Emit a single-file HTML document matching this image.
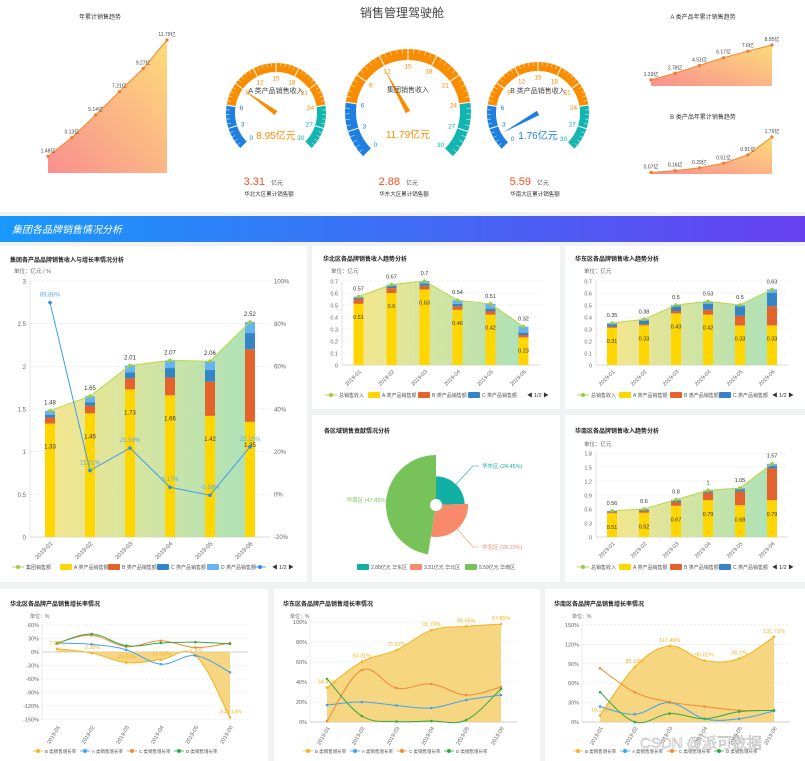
<!DOCTYPE html>
<html><head><meta charset="utf-8"><style>
html,body{margin:0;padding:0;background:#fff;}
svg{display:block;font-family:"Liberation Sans","Noto Sans CJK SC",sans-serif;}
</style></head><body>
<svg id="chart" width="805" height="761" viewBox="0 0 805 761" xmlns="http://www.w3.org/2000/svg">
<defs>
<linearGradient id="gTop" x1="0" y1="1" x2="1" y2="0"><stop offset="0" stop-color="#f98f8f"/><stop offset="1" stop-color="#fddc7a"/></linearGradient>
<linearGradient id="gArea" x1="0" y1="0" x2="1" y2="0"><stop offset="0" stop-color="#f3e27a" stop-opacity="0.85"/><stop offset="1" stop-color="#9fdcab" stop-opacity="0.85"/></linearGradient>
<linearGradient id="gBanner" x1="0" y1="0" x2="1" y2="0"><stop offset="0" stop-color="#1899fb"/><stop offset="1" stop-color="#6640ef"/></linearGradient>
</defs>
<rect x="0" y="0" width="805" height="761" fill="#f1f2f4"/>
<rect x="0" y="0" width="805" height="212" fill="#ffffff"/>
<rect x="0" y="216" width="805" height="26" fill="url(#gBanner)"/>
<text x="12" y="233" font-size="10" font-style="italic" fill="#fff">集团各品牌销售情况分析</text>
<rect x="0" y="246" width="307" height="336" fill="#fff"/>
<rect x="312" y="246" width="248" height="163" fill="#fff"/>
<rect x="565" y="246" width="240" height="163" fill="#fff"/>
<rect x="312" y="415" width="248" height="167" fill="#fff"/>
<rect x="565" y="415" width="240" height="167" fill="#fff"/>
<rect x="0" y="589" width="268" height="172" fill="#fff"/>
<rect x="274" y="589" width="266" height="172" fill="#fff"/>
<rect x="545" y="589" width="260" height="172" fill="#fff"/>
<text x="402" y="17" font-size="12" fill="#444" text-anchor="middle">销售管理驾驶舱</text>
<text x="100" y="19" font-size="6" fill="#333" text-anchor="middle">年累计销售趋势</text>
<text x="703" y="19" font-size="6" fill="#333" text-anchor="middle">A 类产品年累计销售趋势</text>
<text x="703" y="119" font-size="6" fill="#333" text-anchor="middle">B 类产品年累计销售趋势</text>
<text x="10" y="262" font-size="6" font-weight="bold" fill="#222">集团各产品品牌销售收入与增长率情况分析</text>
<text x="14" y="273" font-size="5.5" fill="#666">单位：亿元 / %</text>
<text x="323" y="261" font-size="6" font-weight="bold" fill="#222">华北区各品牌销售收入趋势分析</text>
<text x="331" y="273" font-size="5.5" fill="#666">单位：亿元</text>
<text x="575" y="261" font-size="6" font-weight="bold" fill="#222">华东区各品牌销售收入趋势分析</text>
<text x="584" y="273" font-size="5.5" fill="#666">单位：亿元</text>
<text x="324" y="433" font-size="6" font-weight="bold" fill="#222">各区域销售贡献情况分析</text>
<text x="575" y="433" font-size="6" font-weight="bold" fill="#222">华南区各品牌销售收入趋势分析</text>
<text x="584" y="446" font-size="5.5" fill="#666">单位：亿元</text>
<text x="10" y="606" font-size="6" font-weight="bold" fill="#222">华北区各品牌产品销售增长率情况</text>
<text x="283" y="606" font-size="6" font-weight="bold" fill="#222">华东区各品牌产品销售增长率情况</text>
<text x="554" y="606" font-size="6" font-weight="bold" fill="#222">华南区各品牌产品销售增长率情况</text>
<text x="30" y="618" font-size="5" fill="#666">单位：%</text>
<text x="290" y="618" font-size="5" fill="#666">单位：%</text>
<text x="572" y="618" font-size="5" fill="#666">单位：%</text>
</svg>
<script>
// ---- data ----
const months = ['2019-01','2019-02','2019-03','2019-04','2019-05','2019-06'];
const cumTotal = [1.48,3.13,5.14,7.21,9.27,11.79];
const cumA = [1.33,2.78,4.51,6.17,7.6,8.95];
const cumB = [0.07,0.16,0.29,0.51,0.91,1.76];
const gaugeValues = [8.95,11.79,1.76];
const gaugeLabels = ['A 类产品销售收入','集团销售收入','B 类产品销售收入'];
const regionNames = ['华东区','华北区','华南区'];
const regionValues = [2.88,3.31,5.59];
const regionTotals = [3.31,2.88,5.59];
const regionTotalLabels = ['华北大区累计销售额','华东大区累计销售额','华南大区累计销售额'];
const grpA = [1.33,1.45,1.73,1.66,1.42,1.35];
const grpB = [0.07,0.09,0.13,0.21,0.40,0.85];
const grpC = [0.03,0.04,0.07,0.11,0.14,0.19];
const grpD = [0.05,0.07,0.08,0.09,0.10,0.13];
const grpTotal = [1.48,1.65,2.01,2.07,2.06,2.52];
const grpGrowth = [89.88,11.01,21.58,3.17,-0.58,22.15];
const northA = [0.51,0.6,0.63,0.46,0.42,0.23];
const northB = [0.04,0.04,0.03,0.03,0.03,0.02];
const northC = [0.01,0.02,0.02,0.02,0.02,0.02];
const northD = [0.01,0.01,0.02,0.03,0.04,0.05];
const northTotal = [0.57,0.67,0.7,0.54,0.51,0.32];
const eastA = [0.31,0.33,0.43,0.42,0.33,0.33];
const eastB = [0.01,0.01,0.02,0.04,0.08,0.16];
const eastC = [0.02,0.03,0.04,0.05,0.08,0.11];
const eastD = [0.01,0.01,0.01,0.02,0.01,0.03];
const eastTotal = [0.35,0.38,0.5,0.53,0.5,0.63];
const southA = [0.51,0.52,0.67,0.79,0.68,0.79];
const southB = [0.02,0.04,0.08,0.16,0.30,0.68];
const southC = [0.02,0.02,0.03,0.03,0.04,0.05];
const southD = [0.01,0.02,0.02,0.02,0.03,0.05];
const southTotal = [0.56,0.6,0.8,1,1.05,1.57];
const ngB = [7.05,-2.38,-23.52,-17.02,-7.4,-145.13];
const ngA = [20,17,5,-27,-8,-45];
const ngC = [20,37,12,25,10,20];
const ngD = [19,40,14,20,22,18];
const egB = [34.41,60.31,71.97,91.79,95.65,97.85];
const egA = [17,20,16.5,14,22,27];
const egC = [1,52,34,38,27,35];
const egD = [43,6,0.5,1,2,33];
const sgB = [10.11,85.19,117.49,95.02,98.1,131.71];
const sgA = [24,12,30,5,5,17];
const sgC = [83,46,31,24,18,18];
const sgD = [46,0,13,5,16,18];
const growthTicksN = [60,30,0,-30,-60,-90,-120,-150];
const growthTicksE = [0,20,40,60,80,100];
const growthTicksS = [0,30,60,90,120,150];

const NS='http://www.w3.org/2000/svg';
const svg=document.getElementById('chart');
function el(tag,attrs,parent){const e=document.createElementNS(NS,tag);for(const k in attrs)e.setAttribute(k,attrs[k]);(parent||svg).appendChild(e);return e;}
function txt(x,y,s,size,fill,anchor,parent){const t=el('text',{x:x,y:y,'font-size':size,fill:fill,'text-anchor':anchor||'start'},parent);t.textContent=s;return t;}
function smooth(p){let d='M'+p[0][0]+','+p[0][1];for(let i=0;i<p.length-1;i++){const p0=p[i-1]||p[i],p1=p[i],p2=p[i+1],p3=p[i+2]||p2,t=0.18;const c1=[p1[0]+(p2[0]-p0[0])*t,p1[1]+(p2[1]-p0[1])*t];const c2=[p2[0]-(p3[0]-p1[0])*t,p2[1]-(p3[1]-p1[1])*t];d+=' C'+c1[0]+','+c1[1]+' '+c2[0]+','+c2[1]+' '+p2[0]+','+p2[1];}return d;}

// ---- top mini area charts ----
function miniArea(vals,x0,x1,base,maxV,topY,name){
  const g=el('g',{});
  
  
  const xs=i=>x0+i*(x1-x0)/(vals.length-1);
  const ys=v=>base-v/maxV*(base-topY);
  let d='M'+xs(0)+','+base;
  vals.forEach((v,i)=>{d+=' L'+xs(i)+','+ys(v);});
  d+=' L'+xs(vals.length-1)+','+base+' Z';
  const a=el('path',{d:d,fill:'url(#gTop)'},g);
  
  
  const ln=el('polyline',{points:vals.map((v,i)=>xs(i)+','+ys(v)).join(' '),fill:'none',stroke:'#f5862e','stroke-width':1},g);
  
  
  vals.forEach((v,i)=>{
    const c=el('circle',{cx:xs(i),cy:ys(v),r:1.6,fill:'#f07b2a'},g);
    
    
    const t=txt(xs(i),ys(v)-4,v+'亿',5,'#444','middle',g);
    
    
  });
}
miniArea(cumTotal,48,167,173,11.79,40,'cumulative-total-chart');
miniArea(cumA,651,772,86,8.95,45,'cumulative-a-chart');
miniArea(cumB,651,772,174,1.76,137,'cumulative-b-chart');

// ---- gauges ----
function gauge(cx,cy,r,w,val,label,ptrColor,valColor,name){
  const g=el('g',{});
  
  
  const ang=v=>(225-v/30*270)*Math.PI/180;
  const pt=(v,rr)=>[cx+rr*Math.cos(ang(v)),cy-rr*Math.sin(ang(v))];
  const rm=r-w/2;
  [[0,6,'#1f7fe0'],[6,24,'#fb8c00'],[24,30,'#13b5b1']].forEach(b=>{
    const p0=pt(b[0],rm),p1=pt(b[1],rm);
    const large=(b[1]-b[0])*9>180?1:0;
    const a=el('path',{d:'M'+p0+' A'+rm+' '+rm+' 0 '+large+' 1 '+p1,fill:'none',stroke:b[2],'stroke-width':w},g);
    
    
  });
  for(let v=0;v<=30.001;v+=0.6){
    const major=Math.abs(v/3-Math.round(v/3))<0.01;
    const p0=pt(v,r),p1=pt(v,r-(major?w:w*0.4));
    const tk=el('line',{x1:p0[0],y1:p0[1],x2:p1[0],y2:p1[1],stroke:'#fff','stroke-width':major?1:0.5},g);
    
    
  }
  for(let v=0;v<=30;v+=3){
    const p=pt(v,r-w-6);
    const col=v<=6?'#1f7fe0':(v<=24?'#fb8c00':'#13b5b1');
    const t=txt(p[0],p[1]+2.5,String(v),6.5,col,'middle',g);
    
    
  }
  const tip=pt(val,r*0.78), a=ang(val);
  const px=Math.sin(a)*2.5, py=Math.cos(a)*2.5;
  const ptr=el('polygon',{points:tip+' '+(cx+px)+','+(cy+py)+' '+(cx-px)+','+(cy-py),fill:ptrColor},g);
  
  
  const lt=txt(cx,cy-20,label,7,'#444','middle',g);
  
  
  const vt=txt(cx,cy+26,val+'亿元',10,valColor,'middle',g);
  
  
}
gauge(276,113,50,9,gaugeValues[0],gaugeLabels[0],'#fb8c00','#fb8c00','gauge-a-revenue');
gauge(408,112,63,11,gaugeValues[1],gaugeLabels[1],'#fb8c00','#fb8c00','gauge-group-revenue');
gauge(538,113,51,9,gaugeValues[2],gaugeLabels[2],'#1f7fe0','#1f7fe0','gauge-b-revenue');
[269,404,535].forEach((x,i)=>{
  const t=txt(x-4,185,String(regionTotals[i]),11,'#f4511e','end');
  
  
  const u=txt(x+2,185,'亿元',6,'#555','start');
  
  
  const l=txt(x,196,regionTotalLabels[i],5.5,'#333','middle');
  
  
});

// ---- stacked bar charts ----
const colA='#ffd600',colB='#e4632c',colC='#3585c6',colD='#66b3f2';
function stackChart(o,A,B,C,D,T,growth,name){
  const g=el('g',{});
  
  
  const n=months.length;
  const xs=i=>o.x0+(i+0.5)*(o.x1-o.x0)/n;
  const ys=v=>o.yb-v/o.max*(o.yb-o.yt);
  for(let k=0;k<=o.ticks;k++){
    const v=o.max*k/o.ticks,y=ys(v);
    if(k>0){const gl=el('line',{x1:o.x0,y1:y,x2:o.x1,y2:y,stroke:'#ddd','stroke-dasharray':'2,2','stroke-width':0.6},g);
    
    }
    const t=txt(o.x0-4,y+2.5,String(+v.toFixed(2)),o.fs,'#666','end',g);
    
    
  }
  const ax=el('line',{x1:o.x0,y1:o.yb,x2:o.x1,y2:o.yb,stroke:'#ccc','stroke-width':0.8},g);
  
  
  const ay=el('line',{x1:o.x0,y1:o.yt,x2:o.x0,y2:o.yb,stroke:'#ddd','stroke-width':0.8},g);
  
  
  let d='M'+xs(0)+','+o.yb;
  T.forEach((v,i)=>{d+=' L'+xs(i)+','+ys(v);});
  d+=' L'+xs(n-1)+','+o.yb+' Z';
  const ar=el('path',{d:d,fill:'url(#gArea)'},g);
  
  
  const bw=o.bw;
  months.forEach((m,i)=>{
    let acc=0;
    [[A,colA,'bar-a'],[B,colB,'bar-b'],[C,colC,'bar-c'],[D,colD,'bar-d']].forEach(s=>{
      const v=s[0][i];
      const r=el('rect',{x:xs(i)-bw/2,y:ys(acc+v),width:bw,height:ys(acc)-ys(acc+v),fill:s[1]},g);
      
      
      acc+=v;
    });
    const la=txt(xs(i),ys(A[i])+o.lab,String(A[i]),o.fs,'#333','middle',g);
    
    
    const lt=txt(xs(i),ys(T[i])-6,String(T[i]),o.fs,'#333','middle',g);
    
    
    const xl=txt(xs(i)+3,o.yb+7,m,o.fs,'#666','end',g);
    xl.setAttribute('transform','rotate(-45 '+(xs(i)+3)+' '+(o.yb+7)+')');
    
    
  });
  const tl=el('polyline',{points:T.map((v,i)=>xs(i)+','+ys(v)).join(' '),fill:'none',stroke:'#b5d84c','stroke-width':1},g);
  
  
  T.forEach((v,i)=>{
    const c=el('circle',{cx:xs(i),cy:ys(v),r:1.8,fill:'#9ccc3c'},g);
    
    
  });
  if(growth){
    const yr=v=>494-v/100*(494-281);
    [100,80,60,40,20,0,-20].forEach(v=>{
      const t=txt(o.x1+4,yr(v)+2.5,v+'%',o.fs,'#666','start',g);
      
      
    });
    const gl=el('polyline',{points:growth.map((v,i)=>xs(i)+','+yr(v)).join(' '),fill:'none',stroke:'#3d9cf0','stroke-width':1},g);
    
    
    growth.forEach((v,i)=>{
      const c=el('circle',{cx:xs(i),cy:yr(v),r:1.8,fill:'#2d8ef0'},g);
      
      
      const t=txt(xs(i),yr(v)-6,v+'%',o.fs,'#5aa9ef','middle',g);
      
      
    });
  }
  // legend
  const lg=el('g',{},g);
  
  
  o.legend.forEach((it,k)=>{
    const x=o.lx[k],y=o.ly;
    if(it[1]==='line'){
      const l=el('line',{x1:x,y1:y,x2:x+12,y2:y,stroke:it[2],'stroke-width':0.8},lg);
      
      
      const c=el('circle',{cx:x+6,cy:y,r:2,fill:it[2]},lg);
      
      
    } else {
      const r=el('rect',{x:x,y:y-3,width:12,height:6,rx:1,fill:it[2]},lg);
      
      
    }
    const t=txt(x+14,y+2,it[0],5,'#555','start',lg);
    
    
  });
  const pg=txt(o.px,o.ly+2,'◀ 1/2 ▶',5.5,'#333','start',lg);
  
  
}
stackChart({x0:30,x1:270,yt:281,yb:537,max:3,ticks:6,bw:10,lab:25,fs:6,ly:567,px:272,
  lx:[12,60,108,157,207,254],
  legend:[['集团销售额','line','#9ccc3c'],['A 类产品销售额','rect',colA],['B 类产品销售额','rect',colB],['C 类产品销售额','rect',colC],['D 类产品销售额','rect',colD],['','line','#2d8ef0']]},
  grpA,grpB,grpC,grpD,grpTotal,grpGrowth,'group-revenue-growth-chart');
stackChart({x0:342,x1:540,yt:281,yb:365,max:0.7,ticks:7,bw:10,lab:15,fs:5.5,ly:395,px:527,
  lx:[325,368,418,468],
  legend:[['总销售收入','line','#9ccc3c'],['A 类产品销售额','rect',colA],['B 类产品销售额','rect',colB],['C 类产品销售额','rect',colC]]},
  northA,northB,northC,northD,northTotal,null,'north-revenue-chart');
stackChart({x0:596,x1:788,yt:281,yb:365,max:0.7,ticks:7,bw:10,lab:15,fs:5.5,ly:395,px:772,
  lx:[577,619,670,719],
  legend:[['总销售收入','line','#9ccc3c'],['A 类产品销售额','rect',colA],['B 类产品销售额','rect',colB],['C 类产品销售额','rect',colC]]},
  eastA,eastB,eastC,eastD,eastTotal,null,'east-revenue-chart');
stackChart({x0:596,x1:788,yt:453,yb:537,max:1.8,ticks:6,bw:10,lab:16,fs:5.5,ly:567,px:772,
  lx:[577,619,670,719],
  legend:[['总销售收入','line','#9ccc3c'],['A 类产品销售额','rect',colA],['B 类产品销售额','rect',colB],['C 类产品销售额','rect',colC]]},
  southA,southB,southC,southD,southTotal,null,'south-revenue-chart');

// ---- rose pie ----
(function(){
  const g=el('g',{});
  
  
  const cx=436,cy=505,r0=6,rMax=50;
  const cols=['#12b0a4','#f9896b','#77c35a'];
  const sum=regionValues.reduce((a,b)=>a+b,0), mx=Math.max.apply(null,regionValues);
  let a0=0;
  const P=(a,r)=>[cx+r*Math.sin(a),cy-r*Math.cos(a)];
  const labelPos=[[482,468,'start'],[482,549,'start'],[387,502,'end']];
  regionValues.forEach((v,i)=>{
    const a1=a0+v/sum*2*Math.PI, r=r0+(rMax-r0)*v/mx;
    const lg=(a1-a0)>Math.PI?1:0;
    const p0=P(a0,r),p1=P(a1,r),q1=P(a1,r0),q0=P(a0,r0);
    const s=el('path',{d:'M'+q0+' L'+p0+' A'+r+' '+r+' 0 '+lg+' 1 '+p1+' L'+q1+' A'+r0+' '+r0+' 0 '+lg+' 0 '+q0+' Z',fill:cols[i]},g);
    
    
    const am=(a0+a1)/2, e=P(am,r), lp=labelPos[i];
    const dx=lp[2]==='start'?-3:3;
    const ln=el('polyline',{points:e+' '+(lp[0]+dx*3)+','+(lp[1]-2)+' '+(lp[0]+dx)+','+(lp[1]-2),fill:'none',stroke:cols[i],'stroke-width':0.6},g);
    
    
    const t=txt(lp[0],lp[1],regionNames[i]+' ('+(v/sum*100).toFixed(2)+'%)',5.5,cols[i],lp[2],g);
    
    
    const lx=[357,410,465][i];
    const sw=el('rect',{x:lx,y:564,width:12,height:6,rx:1,fill:cols[i]},g);
    
    
    const lt=txt(lx+14,569,v+'亿元  '+regionNames[i],5,'#555','start',g);
    
    
    a0=a1;
  });
  const hole=el('circle',{cx:cx,cy:cy,r:r0,fill:'#fff'},g);
  
  
})();

// ---- growth line charts ----
function growthChart(o,ticks,B,A,C,D,name){
  const g=el('g',{});
  
  
  const xs=i=>o.xa+i*(o.xb-o.xa)/(months.length-1);
  const ys=v=>o.y0-v*o.k;
  ticks.forEach(v=>{
    const y=ys(v);
    const gl=el('line',{x1:o.gx0,y1:y,x2:o.gx1,y2:y,stroke:v===0?'#ccc':'#ddd','stroke-dasharray':v===0?'':'2,2','stroke-width':v===0?1:0.6},g);
    
    
    const t=txt(o.gx0-3,y+2,v+'%',5.5,'#666','end',g);
    
    
  });
  const ay=el('line',{x1:o.gx0,y1:ys(ticks[0]),x2:o.gx0,y2:ys(ticks[ticks.length-1]),stroke:'#ddd','stroke-width':0.6},g);
  
  
  const ptsB=B.map((v,i)=>[xs(i),ys(v)]);
  const area=el('path',{d:smooth(ptsB)+' L'+xs(5)+','+ys(0)+' L'+xs(0)+','+ys(0)+' Z',fill:'#f5cf6a',opacity:0.85},g);
  
  
  [[B,'#f2b31f','b-growth-line'],[A,'#3ea3f5','a-growth-line'],[C,'#f08a36','c-growth-line'],[D,'#34a844','d-growth-line']].forEach(s=>{
    const pts=s[0].map((v,i)=>[xs(i),ys(v)]);
    const p=el('path',{d:smooth(pts),fill:'none',stroke:s[1],'stroke-width':1},g);
    
    
    pts.forEach(q=>{
      const c=el('circle',{cx:q[0],cy:q[1],r:1.3,fill:s[1]},g);
      
      
    });
  });
  B.forEach((v,i)=>{
    const t=txt(xs(i),ys(v)-4,v+'%',5.5,'#f2b31f','middle',g);
    
    
  });
  months.forEach((m,i)=>{
    const y=o.xlY;
    const xl=txt(xs(i)+3,y,m,5.5,'#666','end',g);
    xl.setAttribute('transform','rotate(-60 '+(xs(i)+3)+' '+y+')');
    
    
  });
  const names=['B 类销售增长率','A 类销售增长率','C 类销售增长率','D 类销售增长率'];
  const cols=['#f2b31f','#3ea3f5','#f08a36','#34a844'];
  names.forEach((nm,k)=>{
    const x=o.lx+k*47,y=751;
    const l=el('line',{x1:x,y1:y,x2:x+10,y2:y,stroke:cols[k],'stroke-width':0.8},g);
    
    
    const c=el('circle',{cx:x+5,cy:y,r:2,fill:cols[k]},g);
    
    
    const t=txt(x+12,y+2,nm,4.5,'#555','start',g);
    
    
  });
}
growthChart({xa:57,xb:230,y0:652,k:0.45,gx0:42,gx1:248,xlY:727,lx:33},growthTicksN,ngB,ngA,ngC,ngD,'north-growth-chart');
growthChart({xa:327,xb:501,y0:722,k:1.0,gx0:310,gx1:517,xlY:728,lx:303},growthTicksE,egB,egA,egC,egD,'east-growth-chart');
growthChart({xa:600,xb:774,y0:722,k:0.647,gx0:582,gx1:790,xlY:728,lx:573},growthTicksS,sgB,sgA,sgC,sgD,'south-growth-chart');

const wm=txt(640,748,'CSDN @派可数据',15,'#ffffff','start');
wm.setAttribute('stroke','#999');
wm.setAttribute('stroke-width','0.4');


</script>
</body></html>
